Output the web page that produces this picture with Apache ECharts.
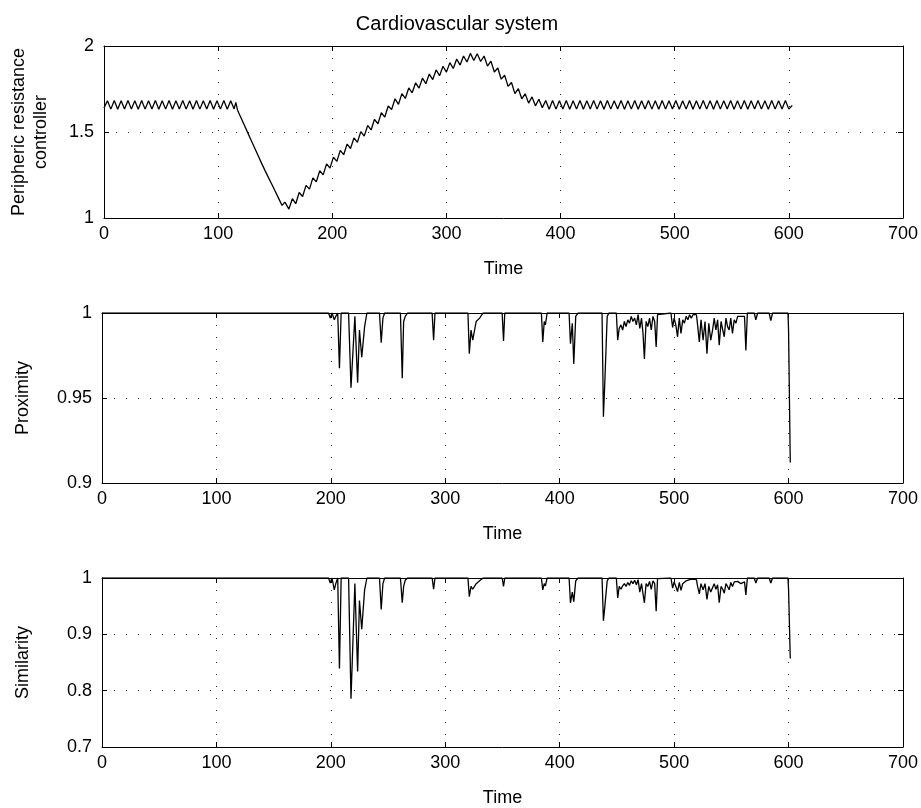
<!DOCTYPE html>
<html>
<head>
<meta charset="utf-8">
<script src="https://cdn.jsdelivr.net/npm/echarts@6/dist/echarts.min.js"></script>
<style>
html,body{margin:0;padding:0;background:#fff;}
#c{width:921px;height:808px;}
</style>
</head>
<body>
<div id="c"></div>
<script>
// ---------- data ----------
const xTicks = [0, 100, 200, 300, 400, 500, 600, 700];

// Peripheric resistance controller
const prcT = [
  0,3,6,9,12,15,18,21,24,27,
  30,33,36,39,42,45,48,51,54,57,
  60,63,66,69,72,75,78,81,84,87,
  90,93,96,99,102,105,108,111,114,
  115.5,117,120,123,126,129,132,135,138,141,
  144,147,150,153,156,158.5,162,
  165,168,171,174,177,180,183,186,189,192,
  195,198,201,204,207,210,213,216,219,222,
  225,228,231,234,237,240,243,246,249,252,
  255,258,261,264,267,270,273,276,279,282,
  285,288,291,294,297,300,303,306,309,312,
  315,318,321,324,327,330,333,336,339,342,
  345,348,351,354,357,360,363,366,369,372,
  375,378,381,384,387,
  390,393,396,399,402,405,408,411,414,417,
  420,423,426,429,432,435,438,441,444,447,
  450,453,456,459,462,465,468,471,474,477,
  480,483,486,489,492,495,498,501,504,507,
  510,513,516,519,522,525,528,531,534,537,
  540,543,546,549,552,555,558,561,564,567,
  570,573,576,579,582,585,588,591,594,597,
  600,603
];
const prcV = [
  1.640,1.682,1.633,1.683,1.632,1.682,1.634,1.683,1.633,1.682,
  1.632,1.683,1.633,1.682,1.634,1.683,1.632,1.682,1.633,1.683,
  1.632,1.682,1.634,1.683,1.633,1.682,1.632,1.683,1.633,1.682,
  1.634,1.683,1.632,1.682,1.633,1.683,1.632,1.682,1.634,
  1.672,1.627,1.583,1.539,1.495,1.451,1.407,1.363,1.319,1.277,
  1.236,1.196,1.155,1.114,1.073,1.092,1.052,
  1.112,1.083,1.148,1.125,1.190,1.168,1.233,1.210,1.275,1.251,
  1.315,1.290,1.354,1.329,1.393,1.368,1.430,1.404,1.466,1.440,
  1.502,1.476,1.538,1.512,1.574,1.548,1.612,1.587,1.651,1.631,
  1.693,1.661,1.723,1.695,1.756,1.728,1.786,1.755,1.813,1.781,
  1.837,1.805,1.861,1.827,1.882,1.848,1.903,1.869,1.924,1.889,
  1.942,1.907,1.957,1.916,1.955,1.910,1.942,1.883,1.912,1.849,
  1.872,1.807,1.830,1.765,1.788,1.723,1.752,1.693,1.722,1.668,
  1.704,1.652,1.690,1.641,1.683,
  1.632,1.683,1.633,1.682,1.634,1.683,1.632,1.682,1.633,1.683,
  1.632,1.682,1.634,1.683,1.633,1.682,1.632,1.683,1.633,1.682,
  1.634,1.683,1.632,1.682,1.633,1.683,1.632,1.682,1.634,1.683,
  1.633,1.682,1.632,1.683,1.633,1.682,1.634,1.683,1.632,1.682,
  1.633,1.683,1.632,1.682,1.634,1.683,1.633,1.682,1.632,1.683,
  1.633,1.682,1.634,1.683,1.632,1.682,1.633,1.683,1.632,1.682,
  1.634,1.683,1.633,1.682,1.632,1.683,1.633,1.682,1.634,1.683,
  1.633,1.655
];

// Proximity & Similarity (shared time stamps)
const spkT = [
  0,198,199.5,201,203,204.3,206,207.5,209,215.5,
  217.6,221,223.4,225,227,229.5,231.5,242.5,244,245.5,
  247,260.8,262.4,263.6,265,267,288.5,289.8,291,319.8,
  321,322.5,324,327,330,333,349.7,350.9,352,384,
  385.2,386.5,387.5,389,408.2,409.4,411,412.3,414,416,
  437,438.2,439.5,441.5,443,449.5,450.7,452,453.5,455,
  456.5,458,459.5,461,462.5,464,465.5,467,468.5,470,
  471.5,472.8,474,475.5,477,478.5,480,481.5,483,484.3,
  485.5,487,497.2,498.7,500,501.5,503,504.5,506,507.5,
  509,510.5,512,513.5,515,516.5,518,519.5,520.5,522,
  523.5,525.3,527,528.7,530.3,532,533.6,535,536.5,538,
  539.4,541,542.5,543.8,545.3,546.7,548.1,549.5,551,552.5,
  554,555.5,557,558.3,560,561.5,562.7,564,570,571.4,
  573,583,584.5,586,599.5,600,601,601.5
];
const proxV = [
  1,1,0.997,1,0.996,0.998,1,0.9675,1,1,
  0.956,0.998,0.959,0.990,0.974,0.992,1,1,0.9825,0.997,
  1,1,0.9616,0.995,0.998,1,1,0.984,1,1,
  0.976,0.990,0.984,0.995,0.997,1,1,0.9835,1,1,
  0.983,0.995,0.993,1,1,0.982,0.994,0.970,0.998,1,
  1,0.939,0.9606,0.998,1,1,0.984,0.991,0.993,0.990,
  0.995,0.992,0.996,0.994,0.998,0.995,0.997,0.993,0.999,0.991,
  0.997,0.988,0.973,0.995,0.992,0.997,0.990,0.998,0.995,0.980,
  0.999,1,1,0.9915,0.997,0.993,0.986,0.997,0.988,0.996,
  0.994,0.998,0.996,0.999,0.997,0.999,0.998,0.999,0.993,0.983,
  0.996,0.984,0.995,0.976,0.994,0.984,0.990,0.997,0.990,0.996,
  0.981,0.995,0.990,0.986,0.997,0.992,0.990,0.997,0.988,0.996,
  0.994,0.998,0.997,0.998,0.997,0.998,0.978,1,1,0.996,
  1,1,0.9955,1,1,0.990,0.989,0.912
];
const simV = [
  1,1,0.991,1,0.979,0.990,1,0.8395,1,1,
  0.7855,0.990,0.834,0.960,0.909,0.979,1,1,0.944,0.990,
  1,1,0.956,0.985,0.996,1,1,0.980,1,1,
  0.967,0.985,0.980,0.990,0.995,1,1,0.985,1,1,
  0.979,0.990,0.986,1,1,0.956,0.975,0.958,0.995,1,
  1,0.924,0.951,0.995,1,1,0.9645,0.985,0.980,0.986,
  0.990,0.985,0.992,0.987,0.995,0.990,0.996,0.988,0.997,0.975,
  0.990,0.972,0.956,0.990,0.985,0.994,0.980,0.995,0.990,0.941,
  0.999,1,1,0.982,0.993,0.985,0.976,0.992,0.978,0.990,
  0.988,0.995,0.992,0.997,0.994,0.998,0.995,0.997,0.985,0.972,
  0.990,0.979,0.990,0.962,0.985,0.975,0.973,0.990,0.980,0.988,
  0.956,0.985,0.980,0.973,0.990,0.985,0.979,0.992,0.985,0.993,
  0.990,0.994,0.992,0.990,0.992,0.993,0.970,1,1,0.991,
  1,1,0.991,1,1,0.980,0.978,0.857
];

// ---------- chart ----------
const FONT = "'Liberation Sans', Arial, Helvetica, sans-serif";
const FS = 18;
const pair = (ts, vs) => ts.map((t, i) => [t, vs[i]]);

const grids = [
  {left: 102, top: 46, width: 802, height: 172},
  {left: 102, top: 313, width: 802, height: 170},
  {left: 102, top: 578, width: 802, height: 172}
];
const yRanges = [
  {min: 1, max: 2, interval: 0.5, name: 'Peripheric resistance\ncontroller', gap: 52},
  {min: 0.9, max: 1, interval: 0.05, name: 'Proximity', gap: 68},
  {min: 0.7, max: 1, interval: 0.1, name: 'Similarity', gap: 68}
];
const dotted = {show: true, lineStyle: {color: '#333', width: 1, type: [1, 11]}};
const axisLine = {show: true, onZero: false, lineStyle: {color: '#000', width: 1}};
const tickIn = {show: true, inside: true, length: 5, lineStyle: {color: '#000', width: 1}};

const xAxes = [], yAxes = [];
grids.forEach((g, i) => {
  xAxes.push({
    gridIndex: i, type: 'value', min: xTicks[0], max: xTicks[xTicks.length - 1], interval: 100,
    position: 'bottom', axisLine, axisTick: tickIn, splitLine: dotted,
    axisLabel: {color: '#000', fontSize: FS, fontFamily: FONT, margin: 7},
    name: 'Time', nameLocation: 'middle', nameGap: 42,
    nameTextStyle: {color: '#000', fontSize: FS, fontFamily: FONT}
  });
  yAxes.push({
    gridIndex: i, type: 'value', min: yRanges[i].min, max: yRanges[i].max, interval: yRanges[i].interval,
    position: 'left', axisLine, axisTick: tickIn, splitLine: dotted,
    axisLabel: {color: '#000', fontSize: FS, fontFamily: FONT, margin: 10},
    name: yRanges[i].name, nameLocation: 'middle', nameGap: yRanges[i].gap, nameRotate: 90,
    nameTextStyle: {color: '#000', fontSize: FS, fontFamily: FONT, lineHeight: 22}
  });
});
grids.forEach((g, i) => {
  xAxes.push({
    gridIndex: i, type: 'value', min: 0, max: 700, interval: 100, position: 'top',
    axisLine, axisTick: tickIn, axisLabel: {show: false}, splitLine: {show: false}
  });
  yAxes.push({
    gridIndex: i, type: 'value', min: yRanges[i].min, max: yRanges[i].max, interval: yRanges[i].interval,
    position: 'right', axisLine, axisTick: tickIn, axisLabel: {show: false}, splitLine: {show: false}
  });
});

const lineSeries = (data, idx) => ({
  type: 'line', data, xAxisIndex: idx, yAxisIndex: idx,
  showSymbol: false, symbol: 'none', clip: true,
  lineStyle: {color: '#000', width: 1.3}, itemStyle: {color: '#000'}
});

const chart = echarts.init(document.getElementById('c'), null, {renderer: 'canvas'});
chart.setOption({
  animation: false,
  backgroundColor: '#fff',
  title: {
    text: 'Cardiovascular system', left: 452, top: 9, textAlign: 'center',
    textStyle: {color: '#000', fontSize: 20, fontWeight: 'normal', fontFamily: FONT}
  },
  grid: grids,
  xAxis: xAxes,
  yAxis: yAxes,
  series: [
    lineSeries(pair(prcT, prcV), 0),
    lineSeries(pair(spkT, proxV), 1),
    lineSeries(pair(spkT, simV), 2)
  ]
});
</script>
</body>
</html>
